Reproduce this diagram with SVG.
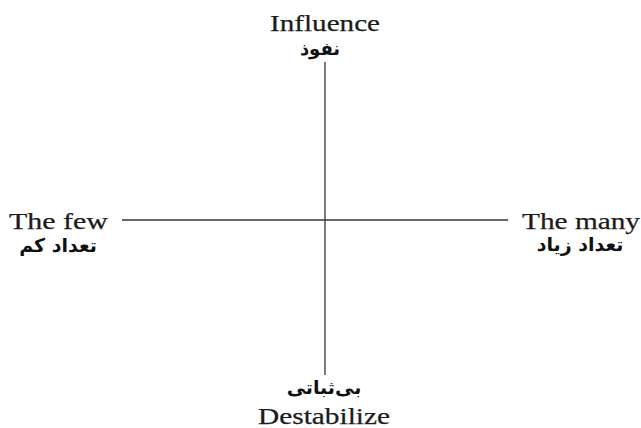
<svg xmlns="http://www.w3.org/2000/svg" width="641" height="428" viewBox="0 0 641 428">
<style>
.en{font-family:"Liberation Serif","Times New Roman",serif;font-size:24px;fill:#1c1c1c;stroke:#1c1c1c;stroke-width:0.25;}
.fa{font-family:"DejaVu Sans","Noto Sans",sans-serif;font-size:19px;font-weight:bold;fill:#111;}
.ax{stroke:#333;stroke-width:1.3;fill:none;}
</style>
<rect width="641" height="428" fill="#fff"/>
<g id="connectors">
<line class="ax" x1="325" y1="62" x2="325" y2="375"/>
<line class="ax" x1="122" y1="220" x2="508" y2="220"/>
</g>
<g id="top">
<text class="en" x="325" y="31" text-anchor="middle" textLength="110" lengthAdjust="spacingAndGlyphs">Influence</text>
<text class="fa" x="320" y="55" text-anchor="middle" direction="rtl" style="font-size:18px">نفوذ</text>
</g>
<g id="left">
<text class="en" x="9" y="229" textLength="99" lengthAdjust="spacingAndGlyphs">The few</text>
<text class="fa" x="58" y="252" text-anchor="middle" direction="rtl">تعداد کم</text>
</g>
<g id="right">
<text class="en" x="522" y="229" textLength="118" lengthAdjust="spacingAndGlyphs">The many</text>
<text class="fa" x="580" y="251" text-anchor="middle" direction="rtl">تعداد زیاد</text>
</g>
<g id="bottom">
<text class="fa" x="324" y="394" text-anchor="middle" direction="rtl">بی‌ثباتی</text>
<text class="en" x="324" y="424" text-anchor="middle" textLength="132" lengthAdjust="spacingAndGlyphs">Destabilize</text>
</g>
</svg>
